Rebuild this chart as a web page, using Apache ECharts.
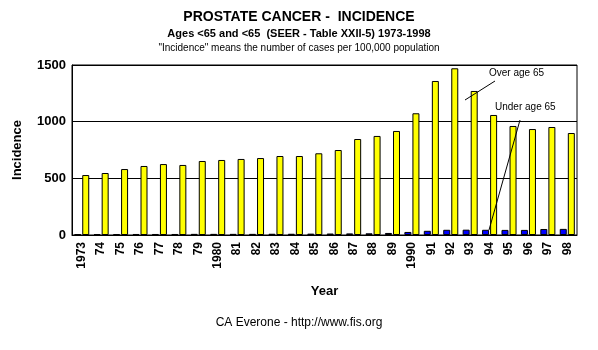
<!DOCTYPE html>
<html lang="en">
<head>
    <meta charset="UTF-8">
    <title>Prostate Cancer Incidence</title>
    <script src="https://cdn.jsdelivr.net/npm/echarts@6/dist/echarts.min.js"></script>
    <style>
        body { margin: 0; background: #fff; }
    </style>
</head>
<body>
    <div id="main" style="width: 598px;height:350px;"></div>
    <script type="text/javascript">
        // Data
        const years = ['1973', '74', '75', '76', '77', '78', '79', '1980', '81', '82', '83', '84', '85',
            '86', '87', '88', '89', '1990', '91', '92', '93', '94', '95', '96', '97', '98'];
        const underAge65 = [8, 8, 8, 9, 9, 9, 10, 10, 10, 10, 11, 11, 12, 13, 14, 15, 18, 27, 37, 46, 47, 46, 45, 45, 53, 54];
        const overAge65 = [529, 547, 582, 609, 626, 618, 653, 662, 671, 679, 697, 697, 721,
            750, 847, 874, 918, 1074, 1359, 1471, 1271, 1059, 962, 935, 953, 900];
        const yTicks = [0, 500, 1000, 1500];

        const font = 'Liberation Sans, Arial, sans-serif';
        let myChart = echarts.init(document.getElementById('main'));

        let options = {
            backgroundColor: '#fff',
            animation: false,
            title: [
                { text: 'PROSTATE CANCER -  INCIDENCE', left: 'center', top: 5,
                  textStyle: { fontFamily: font, fontSize: 14, fontWeight: 'bold', color: '#000' } },
                { text: 'Ages <65 and <65  (SEER - Table XXII-5) 1973-1998', left: 'center', top: 23,
                  textStyle: { fontFamily: font, fontSize: 11, fontWeight: 'bold', color: '#000' } },
                { text: '"Incidence" means the number of cases per 100,000 population', left: 'center', top: 38,
                  textStyle: { fontFamily: font, fontSize: 10, fontWeight: 'normal', color: '#000' } },
                { text: 'CA Everone - http://www.fis.org', left: 'center', top: 312,
                  textStyle: { fontFamily: font, fontSize: 12, fontWeight: 'normal', color: '#000' } }
            ],
            grid: {
                left: 72, right: 21, top: 65, bottom: 115,
                show: true, borderColor: '#000', borderWidth: 1
            },
            xAxis: {
                type: 'category',
                data: years,
                name: 'Year',
                nameLocation: 'middle',
                nameGap: 50,
                nameTextStyle: { fontFamily: font, fontSize: 13, fontWeight: 'bold', color: '#000' },
                axisLine: { lineStyle: { color: '#000' } },
                axisTick: { show: false },
                axisLabel: {
                    interval: 0, rotate: 90, margin: 7,
                    fontFamily: font, fontSize: 12, fontWeight: 'bold', color: '#000'
                }
            },
            yAxis: {
                type: 'value',
                min: yTicks[0],
                max: yTicks[yTicks.length - 1],
                interval: 500,
                name: 'Incidence',
                nameLocation: 'middle',
                nameGap: 48,
                nameTextStyle: { fontFamily: font, fontSize: 13, fontWeight: 'bold', color: '#000' },
                axisLine: { show: true, lineStyle: { color: '#000' } },
                axisTick: { show: false },
                axisLabel: {
                    fontFamily: font, fontSize: 13, fontWeight: 'bold', color: '#000', margin: 6,
                    formatter: v => String(v)
                },
                splitLine: { lineStyle: { color: '#000', width: 1 } }
            },
            series: [
                {
                    name: 'Under age 65',
                    type: 'bar',
                    data: underAge65,
                    barWidth: 7,
                    barGap: '15%',
                    itemStyle: { color: '#0000ff', borderColor: '#000', borderWidth: 1 }
                },
                {
                    name: 'Over age 65',
                    type: 'bar',
                    data: overAge65,
                    barWidth: 7,
                    itemStyle: { color: '#ffff00', borderColor: '#000', borderWidth: 1 }
                }
            ],
            graphic: [
                { type: 'text', left: 489, top: 68, z: 100,
                  style: { text: 'Over age 65', font: '10px ' + font, fill: '#000' } },
                { type: 'line', z: 100, shape: { x1: 465, y1: 100, x2: 495, y2: 81 },
                  style: { stroke: '#000', lineWidth: 1 } },
                { type: 'text', left: 495, top: 102, z: 100,
                  style: { text: 'Under age 65', font: '10px ' + font, fill: '#000' } },
                { type: 'line', z: 100, shape: { x1: 520, y1: 120, x2: 489, y2: 230 },
                  style: { stroke: '#000', lineWidth: 1 } }
            ]
        };

        myChart.setOption(options);
    </script>
</body>
</html>
